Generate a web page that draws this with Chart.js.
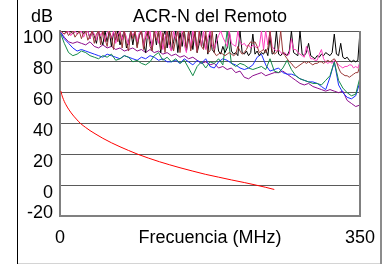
<!DOCTYPE html>
<html><head><meta charset="utf-8">
<script src="https://cdn.jsdelivr.net/npm/chart.js@4/dist/chart.umd.min.js"></script>
<style>html,body{margin:0;padding:0;background:#fff;}canvas{display:block;}</style>
</head><body>
<canvas id="c" width="391" height="264"></canvas>
<script>
const chartTitle = "ACR-N del Remoto";
const yUnit = "dB";
const xTitle = "Frecuencia (MHz)";
const yMin = -20, yMax = 100, yStep = 20;
const xTickValues = [0, 175, 350];
const xTickLabels = ["0", xTitle, "350"];

// fine frequency grid (MHz) for the three upper, spiky pairs
const freqsFine = [1,2.5,5,7.5,10,12.5,15,17.5,20,22.5,25,27.5,30,32.5,35,37.5,40,42.5,45,47.5,50,52.5,55,57.5,60,62.5,65,67.5,70,72.5,75,77.5,80,82.5,85,87.5,90,92.5,95,97.5,100,102.5,105,107.5,110,112.5,115,117.5,120,122.5,125,127.5,130,132.5,135,137.5,140,142.5,145,147.5,150,152.5,155,157.5,160,162.5,165,167.5,170,172.5,175,177.5,180,182.5,185,187.5,190,192.5,195,197.5,200,202.5,205,207.5,210,212.5,215,217.5,220,222.5,225,227.5,230,232.5,235,237.5,240,242.5,245,247.5,250,252.5,255,257.5,260,262.5,265,267.5,270,272.5,275,277.5,280,282.5,285,287.5,290,292.5,295,297.5,300,302.5,305,307.5,310,312.5,315,317.5,320,322.5,325,327.5,330,332.5,335,337.5,340,342.5,345,347.5,350];
// coarse frequency grid (MHz) for the lower pairs
const freqs = [1,5,10,15,20,25,30,35,40,45,50,55,60,65,70,75,80,85,90,95,100,105,110,115,120,125,130,135,140,145,150,155,160,165,170,175,180,185,190,195,200,205,210,215,220,225,230,235,240,245,250,255,260,265,270,275,280,285,290,295,300,305,310,315,320,325,330,335,340,345,350];

const blackPair = [100,100,100,99,100,100,98,100,100,99, 100,98,100,100,95,100,97,92,100,95, 91,100,93,100,90,99,94,100,91,96, 100,89,93,100,91,100,90,97,100,92, 86,100,94,88,100,91,100,86,96,100, 89,100,87,93,100,86,99,90,100,87, 95,100,88,100,86,92,100,89,97,85, 100,88,86,98,87,85,90,86,89,100, 87,85,86,84,100,86,85,87,84,86, 98,85,87,84,86,85,88,84,96,85, 86,100,85,84,86,85,84,87,100,86, 85,84,100,85,84,86,92,84,83,82, 84,83,85,84,86,85,84,86,98,85, 84,92,83,82,83,81,80,81,80,81, 100];
const pinkPair = [100,99,98,99,100,97,99,100,98,99, 100,96,99,100,95,100,98,94,100,97, 100,93,99,100,95,100,92,98,100,94, 100,96,91,100,97,100,93,99,100,90, 100,95,100,89,98,100,92,100,88,96, 100,90,87,100,94,100,88,100,91,86, 100,89,100,93,87,100,90,100,88,95, 100,91,88,93,97,100,96,93,90,100, 92,91,90,100,93,91,92,90,91,89, 91,90,89,90,100,88,100,91,100,90, 88,87,88,86,85,86,84,85,95,88, 88,86,85,84,83,90,86,82,82,81, 81,85,88,82,80,79,80,79,81,80, 78,77,76,77,77,78,78,76,77,76, 80];
const brownPair = [100,99,98,100,97,99,100,96,98,100, 95,99,100,94,97,100,92,98,100,91, 100,95,90,100,96,88,100,93,99,89, 100,92,87,100,95,100,89,97,100,88, 96,100,90,87,100,94,100,88,99,86, 100,91,100,87,95,100,86,98,100,89, 100,87,94,100,86,100,90,88,100,86, 87,100,86,84,85,86,85,84,85,86, 85,84,85,90,87,85,86,88,91,93, 92,93,90,86,87,88,86,89,100,87, 85,86,88,100,86,84,82,80,79,77, 76,77,78,79,80,79,80,79,78,79, 79,80,80,79,80,81,80,81,82,80, 76,73,72,71,71,70,71,72,73,73, 78];
const greenPair = [98,92,86,84,85,87,86,84,83,82, 84,83,85,81,82,84,83,80,81,79, 78,80,84,86,81,83,80,82,79,81, 76,71,77,80,76,80,79,82,78,100, 79,77,79,78,76,75,76,77,75,82, 74,73,76,81,75,71,69,68,67,66, 66,65,68,71,80,68,63,60,58,59, 70];
const bluePair = [99,95,92,89,87,88,87,86,85,84, 83,85,84,83,82,84,83,82,81,83, 82,84,83,81,82,80,80,81,79,82, 80,78,81,79,82,77,76,80,82,81, 79,78,76,75,76,78,83,85,78,74, 75,76,73,72,72,71,69,68,67,67, 66,64,62,70,80,65,60,57,56,58, 67];
const purplePair = [99,96,93,92,93,92,91,93,90,89, 91,89,90,88,89,87,88,89,87,88, 86,88,86,87,85,86,84,85,83,84, 82,83,81,79,80,78,79,76,77,75, 76,73,74,70,69,71,72,73,71,72, 73,73,74,72,70,68,66,65,66,64, 63,62,61,62,61,60,61,55,53,51, 52];

const limitFreqs = [1,2,3,5,7,10,13,16,20,24,30,35,42,50,60,70,80,91,103,116,128,140,155,170,185,200,215,229,240,250];
const limitValues = [61,58.8,57.1,54.3,52.1,49.3,46.9,44.8,42.3,40,37.4,35.4,33,30.4,27.5,24.9,22.5,20,17.6,15.2,13.2,11.3,9.1,7,5.2,3.4,1.7,0,-1.4,-2.8];

const seriesNames = ["Par negro","Par rosa","Par marrón","Par verde","Par azul","Par morado"];
const seriesValues = [blackPair, pinkPair, brownPair, greenPair, bluePair, purplePair];
const seriesFreqs = [freqsFine, freqsFine, freqsFine, freqs, freqs, freqs];
const seriesColors = ["#000000","#ff40c0","#993838","#138a48","#1c2cff","#8c0c8c"];
const seriesOrder = [3, 2, 1, 4, 5, 6]; // lower = drawn on top

const FONT = '"Liberation Sans", Arial, Helvetica, sans-serif';
Chart.defaults.font.family = FONT;
Chart.defaults.color = '#000';

const datasets = seriesValues.map((vals, k) => ({
  label: seriesNames[k],
  data: seriesFreqs[k].map((f, i) => ({x: f, y: vals[i]})),
  borderColor: seriesColors[k],
  borderWidth: 1,
  pointRadius: 0,
  tension: 0,
  order: seriesOrder[k],
  fill: false
}));
datasets.push({
  label: "Límite",
  data: limitFreqs.map((f, i) => ({x: f, y: limitValues[i]})),
  borderColor: "#ff0000",
  borderWidth: 1,
  pointRadius: 0,
  order: 0,
  cubicInterpolationMode: 'monotone',
  fill: false
});

// frame, plot-centred title and unit label
const framePlugin = {
  id: 'framePlugin',
  afterDraw(chart) {
    const {ctx, chartArea: a} = chart;
    ctx.save();
    ctx.strokeStyle = '#808080'; ctx.lineWidth = 2;
    ctx.beginPath(); ctx.moveTo(a.right, a.top); ctx.lineTo(a.right, a.bottom + 1); ctx.stroke();
    ctx.fillStyle = '#000'; ctx.font = '18px ' + FONT;
    ctx.textBaseline = 'middle';
    ctx.textAlign = 'right';
    ctx.fillText(yUnit, a.left - 7, 17);
    ctx.textAlign = 'center';
    ctx.fillText(chartTitle, (a.left + a.right) / 2, 17);
    ctx.strokeStyle = '#000'; ctx.lineWidth = 1;
    ctx.beginPath(); ctx.moveTo(17.5, 0); ctx.lineTo(17.5, 264); ctx.stroke();
    ctx.strokeStyle = '#8c8c8c'; ctx.lineWidth = 2;
    ctx.beginPath(); ctx.moveTo(381, 0); ctx.lineTo(381, 264); ctx.stroke();
    ctx.strokeStyle = '#d4d4d4'; ctx.lineWidth = 1;
    ctx.beginPath(); ctx.moveTo(18, 263.5); ctx.lineTo(380, 263.5); ctx.stroke();
    ctx.restore();
  }
};

new Chart(document.getElementById('c'), {
  type: 'line',
  data: { datasets },
  options: {
    responsive: false,
    animation: false,
    devicePixelRatio: 1,
    layout: { padding: { left: 17, right: 31, top: 31, bottom: 0 } },
    plugins: {
      legend: { display: false },
      tooltip: { enabled: false },
      title: { display: false }
    },
    scales: {
      x: {
        type: 'linear', min: 0, max: 350,
        grid: { display: false, drawTicks: false },
        border: { display: true, color: '#808080', width: 2 },
        afterBuildTicks(scale) { scale.ticks = xTickValues.map(v => ({value: v})); },
        afterFit(scale) { scale.height = 48; scale.paddingLeft = 0; scale.paddingRight = 0; },
        ticks: {
          autoSkip: false, maxRotation: 0, padding: 11, color: '#000',
          font: { size: 18 },
          callback: (v) => { const i = xTickValues.indexOf(v); return i >= 0 ? xTickLabels[i] : ''; }
        }
      },
      y: {
        min: yMin, max: yMax,
        grid: { color: '#5a5a5a', lineWidth: 1, drawTicks: false },
        border: { display: true, color: '#808080', width: 2 },
        afterFit(scale) { scale.width = 43; scale.paddingTop = 0; scale.paddingBottom = 0; },
        ticks: {
          autoSkip: false, stepSize: yStep, padding: 7, color: '#000', font: { size: 18 }, labelOffset: 7.5,
          callback: (v) => v === yMin ? [String(v), ''] : String(v)
        }
      }
    }
  },
  plugins: [framePlugin]
});
</script>
</body></html>
